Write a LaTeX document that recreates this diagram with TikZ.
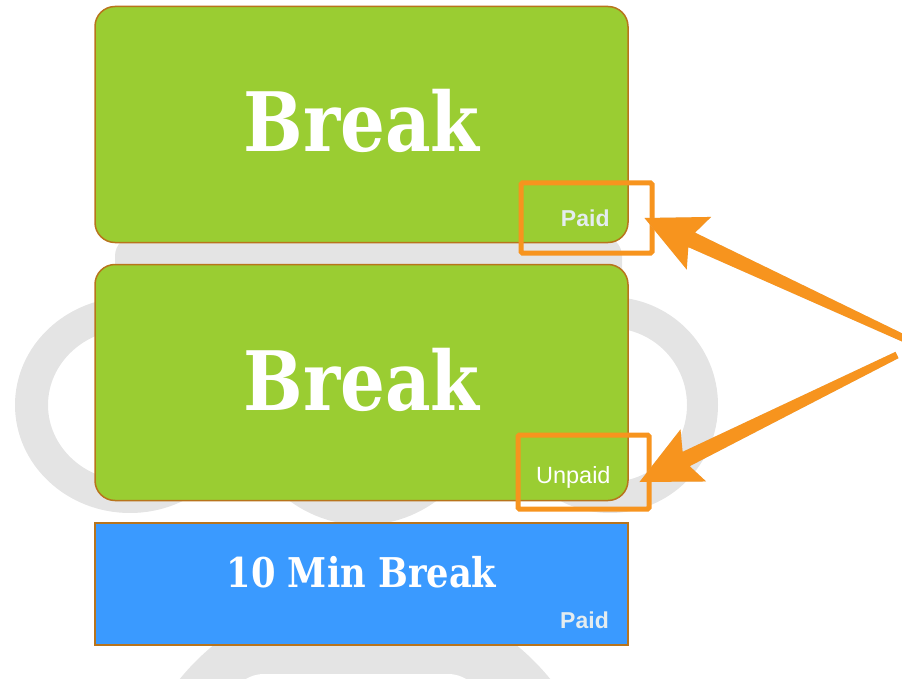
\documentclass[tikz,border=0pt]{standalone}
\usepackage{fontspec}
\setsansfont{Liberation Sans}
\newfontfamily\slab[FakeStretch=0.86]{DejaVu Serif}
\usetikzlibrary{calc}
\definecolor{brkgreen}{HTML}{9ACD32}
\definecolor{brkblue}{HTML}{3A9AFF}
\definecolor{brkrim}{HTML}{B8741C}
\definecolor{hiorange}{HTML}{F7941E}
\definecolor{wmgray}{HTML}{E4E4E4}
\definecolor{tagpaid}{HTML}{E4ECEF}

\begin{document}
\begin{tikzpicture}[x=1pt,y=-1pt]%
  \tikzstyle{boxg}=[rectangle,draw=brkrim,line width=1.5pt,fill=brkgreen,rounded corners=20pt,minimum width=533pt,minimum height=236pt,inner sep=0]
  \tikzstyle{boxb}=[rectangle,draw=brkrim,line width=2pt,fill=brkblue,minimum width=533pt,minimum height=122pt,inner sep=0]
  \tikzstyle{bigt}=[text=white,anchor=base,inner sep=0,font=\slab\bfseries\fontsize{82}{82}\selectfont]
  \tikzstyle{midt}=[text=white,anchor=base,inner sep=0,font=\slab\bfseries\fontsize{41}{41}\selectfont]
  \tikzstyle{tagp}=[text=tagpaid,anchor=base east,inner sep=0,font=\sffamily\bfseries\fontsize{23}{23}\selectfont]
  \tikzstyle{tagu}=[text=white,anchor=base east,inner sep=0,font=\sffamily\fontsize{23.5}{23.5}\selectfont]
  \tikzstyle{hlt}=[rectangle,draw=hiorange,line width=5pt,rounded corners=1.5pt,minimum width=131pt,inner sep=0]
  \useasboundingbox (0,0) rectangle (902,679);
  % faint logo behind the boxes
  \fill[wmgray,even odd rule] (130,405) ellipse [x radius=115,y radius=108] (130,405) ellipse [x radius=82,y radius=76];
  \fill[wmgray,even odd rule] (610,405) ellipse [x radius=108,y radius=108] (610,405) ellipse [x radius=77,y radius=77];
  \fill[wmgray,even odd rule] (363,405) ellipse [x radius=122,y radius=120] (363,405) ellipse [x radius=90,y radius=88];
  \fill[wmgray,rounded corners=20] (115,236) rectangle (622,290);
  \fill[wmgray] (365,830) circle [radius=239];
  \fill[white,rounded corners=35] (229,674) rectangle (483,760);
  % the three breaks
  \node(b1)[boxg] at (361.5,124.5) {};
  \node(b2)[boxg] at (361.5,382.5) {};
  \node(b3)[boxb] at (361.5,584) {};
  \node(t1)[bigt] at ($(b1.north)+(0,146)$) {Break};
  \node(t2)[bigt] at ($(b2.north)+(0,147)$) {Break};
  \node(t3)[midt] at ($(b3.north)+(0,65)$) {10 Min Break};
  \node(p1)[tagp] at ($(b1.south east)+(-19,-17)$) {Paid};
  \node(p2)[tagu] at ($(b2.south east)+(-18,-18)$) {Unpaid};
  \node(p3)[tagp] at ($(b3.south east)+(-20,-18)$) {Paid};
  % highlights and pointers
  \node(hl1)[hlt,minimum height=70pt] at (586.5,218) {};
  \node(hl2)[hlt,minimum height=74pt] at (583.5,472) {};
  \coordinate(tip1) at ($(hl1.east)+(-10,0)$);
  \coordinate(tip2) at ($(hl2.east)+(-12,10)$);
  \coordinate(src1) at (914,343);
  \coordinate(src2) at (897,355);
  \foreach \s/\t in {src1/tip1,src2/tip2}{
    \coordinate(hb) at ($(\t)!60pt!(\s)$);
    \coordinate(nk) at ($(\t)!52pt!(\s)$);
    \fill[black!25,opacity=0.5,line join=round,shift={(1.5,2.5)}] (\t) -- ($(hb)!29pt!90:(\s)$) -- ($(nk)!8pt!90:(\s)$)
      -- ($(\s)!3.5pt!-90:(\t)$) -- ($(\s)!3.5pt!90:(\t)$)
      -- ($(nk)!8pt!-90:(\s)$) -- ($(hb)!29pt!-90:(\s)$) -- cycle;
    \fill[hiorange,line join=round] (\t) -- ($(hb)!29pt!90:(\s)$) -- ($(nk)!8pt!90:(\s)$)
      -- ($(\s)!3.5pt!-90:(\t)$) -- ($(\s)!3.5pt!90:(\t)$)
      -- ($(nk)!8pt!-90:(\s)$) -- ($(hb)!29pt!-90:(\s)$) -- cycle;
  }
\end{tikzpicture}
\end{document}
